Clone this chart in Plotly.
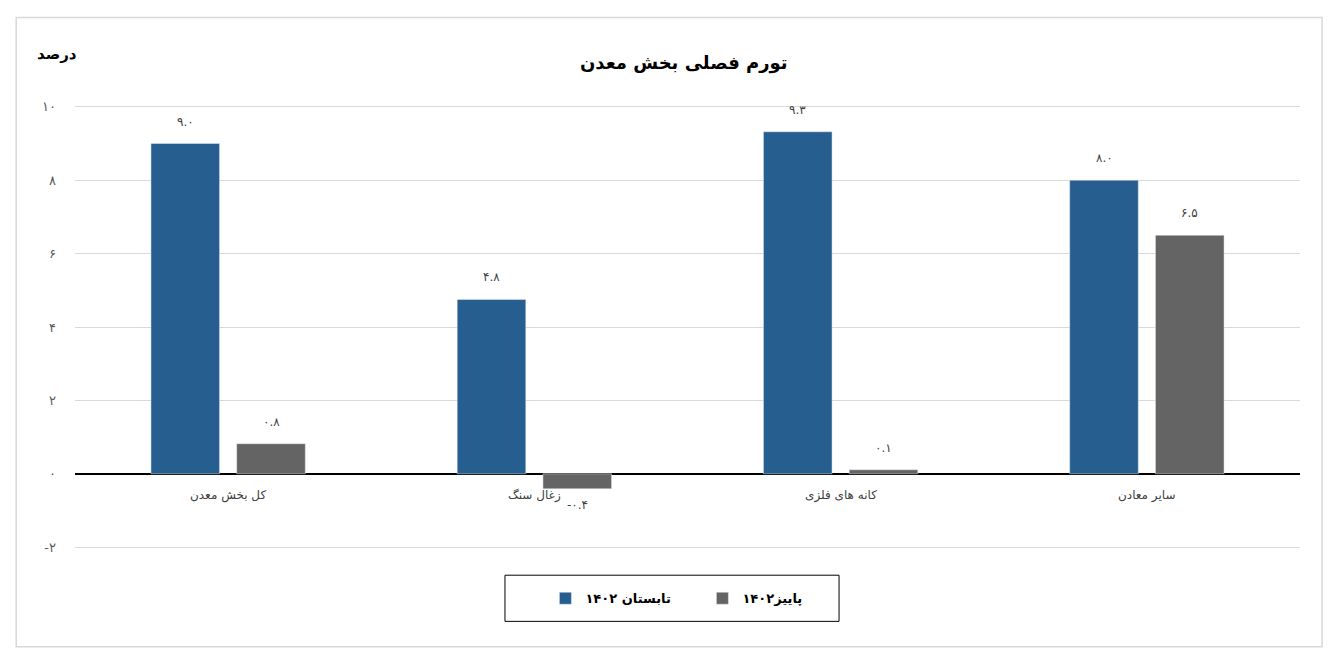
import plotly.graph_objects as go

# data
categories = ['کل بخش معدن', 'زغال سنگ', 'کانه های فلزی', 'سایر معادن']
summer_1402 = [9.0, 4.75, 9.32, 8.0]
autumn_1402 = [0.82, -0.41, 0.11, 6.5]
summer_labels = ['۹.۰', '۴.۸', '۹.۳', '۸.۰']
autumn_labels = ['۰.۸', '-۰.۴', '۰.۱', '۶.۵']
y_ticks = [-2, 0, 2, 4, 6, 8, 10]
y_tick_labels = ['-۲', '۰', '۲', '۴', '۶', '۸', '۱۰']

FONT = 'DejaVu Sans'
BLUE = '#265e8f'
GRAY = '#646464'
BARGAP = 0.44
GROUPGAP = 0.2

fig = go.Figure()
fig.add_trace(go.Bar(name='تابستان ۱۴۰۲', x=list(range(len(categories))), y=summer_1402,
                     marker=dict(color=BLUE)))
fig.add_trace(go.Bar(name='پاییز۱۴۰۲', x=list(range(len(categories))), y=autumn_1402,
                     marker=dict(color=GRAY)))

# value labels, floated a bit off the bar ends
slot = (1 - BARGAP) / 2
for offset, values, labels in [(-slot / 2, summer_1402, summer_labels),
                               (slot / 2, autumn_1402, autumn_labels)]:
    for i, (v, lab) in enumerate(zip(values, labels)):
        fig.add_annotation(x=i + offset, y=v, xref='x', yref='y', text=lab,
                           showarrow=False, yshift=22 if v >= 0 else -16,
                           font=dict(family=FONT, size=12, color='#404040'))

# category labels sit just under the zero line
for i, cat in enumerate(categories):
    fig.add_annotation(x=i, y=0, xref='x', yref='y', text=cat, showarrow=False,
                       yshift=-22, font=dict(family=FONT, size=12, color='#404040'))

fig.add_annotation(x=-0.033, y=1.14, xref='paper', yref='paper', text='<b>درصد</b>',
                   showarrow=False, font=dict(family=FONT, size=15, color='black'))

# light outer frame
fig.add_shape(type='rect', xref='paper', yref='paper', x0=-0.048, x1=1.018,
              y0=-0.22, y1=1.197, line=dict(color='#d9d9d9', width=1.5), layer='below')
# legend frame
fig.add_shape(type='rect', xref='paper', yref='paper', x0=0.351, x1=0.6237,
              y0=-0.163, y1=-0.059, line=dict(color='black', width=1))

fig.update_layout(
    width=1325, height=650,
    margin=dict(l=67, r=33, t=97, b=109),
    plot_bgcolor='white', paper_bgcolor='white',
    title=dict(text='<b>تورم فصلی بخش معدن</b>', x=0.51, xanchor='center', y=0.925,
               font=dict(family=FONT, size=18, color='black')),
    barmode='group', bargap=BARGAP, bargroupgap=GROUPGAP,
    font=dict(family=FONT),
    xaxis=dict(range=[-0.5, len(categories) - 0.5], showticklabels=False,
               showgrid=False, zeroline=False),
    yaxis=dict(range=[-2.05, 10.05], tickvals=y_ticks, ticktext=y_tick_labels,
               showgrid=True, gridcolor='#d9d9d9', gridwidth=1,
               zeroline=True, zerolinecolor='black', zerolinewidth=1.5,
               ticklabelstandoff=18,
               tickfont=dict(family=FONT, size=13, color='#595959')),
    legend=dict(orientation='h', x=0.384, xanchor='left', y=-0.111, yanchor='middle',
                borderwidth=0, entrywidth=112, bgcolor='rgba(0,0,0,0)',
                font=dict(family=FONT, size=13, color='black', weight='bold'),
                traceorder='normal'),
)

fig.write_html('out.html')
